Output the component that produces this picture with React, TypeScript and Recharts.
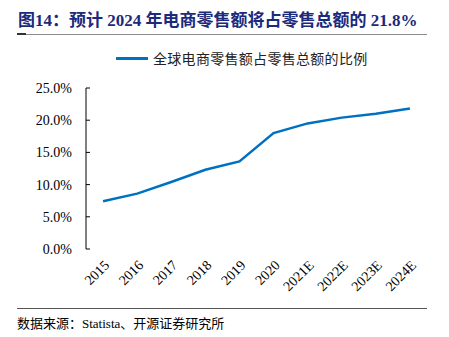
import React from 'react';
import { LineChart, Line, XAxis, YAxis } from 'recharts';

const years = ['2015', '2016', '2017', '2018', '2019', '2020', '2021E', '2022E', '2023E', '2024E'];
const share = [7.4, 8.6, 10.4, 12.3, 13.6, 18.0, 19.5, 20.4, 21.0, 21.8];
const yTicks = [0, 5, 10, 15, 20, 25];
const seriesName = '全球电商零售额占零售总额的比例';

// x is the middle of each category band, so tick marks can sit on the band edges
const data = years.map((year, i) => ({ x: i + 0.5, year, share: share[i] }));
const edgeTicks = years.map((_, i) => i).concat(years.length);
const centerTicks = data.map((d) => d.x);

const serif = "'Liberation Serif', 'Times New Roman', serif";
const cjk = "'Liberation Serif', 'Noto Sans CJK SC', serif";

const YearTick = (props: any) => {
  const { x, y, payload } = props;
  const label = years[Math.floor(payload.value)];
  return (
    <text
      x={x}
      y={y}
      dy={10}
      transform={`rotate(-45 ${x} ${y})`}
      textAnchor="end"
      fontFamily={serif}
      fontSize={14}
      fill="#000"
    >
      {label}
    </text>
  );
};

const App: React.FC = () => {
  return (
    <div style={{ position: 'relative', width: 449, height: 337, background: '#fff', fontFamily: cjk }}>
      <style>{`body{margin:0}`}</style>
      <div
        style={{
          position: 'absolute', left: 18, top: 6, fontSize: 17, fontWeight: 'bold',
          color: '#1c2a7c', whiteSpace: 'nowrap'
        }}
      >
        图14：预计 2024 年电商零售额将占零售总额的 21.8%
      </div>
      <div style={{ position: 'absolute', left: 17, top: 34, width: 410, height: 1, background: '#8c8c8c' }} />
      <div style={{ position: 'absolute', left: 17, top: 33, width: 9, height: 2, background: '#333' }} />

      <div style={{ position: 'absolute', left: 116, top: 57, width: 32, height: 3, background: '#0070C0' }} />
      <div
        style={{
          position: 'absolute', left: 153, top: 48, fontSize: 14, color: '#222',
          letterSpacing: 0.3, whiteSpace: 'nowrap'
        }}
      >
        {seriesName}
      </div>

      <div style={{ position: 'absolute', left: 0, top: 0 }}>
        <LineChart width={449} height={337} data={data} margin={{ top: 88, right: 22, bottom: 38, left: 26 }}>
          <XAxis
            xAxisId="edge"
            type="number"
            dataKey="x"
            domain={[0, years.length]}
            ticks={edgeTicks}
            tick={false}
            tickSize={-4}
            height={0}
            axisLine={{ stroke: '#000', strokeWidth: 1 }}
            tickLine={{ stroke: '#000' }}
          />
          <XAxis
            xAxisId="label"
            type="number"
            dataKey="x"
            domain={[0, years.length]}
            ticks={centerTicks}
            tick={<YearTick />}
            tickLine={false}
            axisLine={false}
            tickMargin={4}
            height={50}
            interval={0}
          />
          <YAxis
            type="number"
            domain={[0, 25]}
            ticks={yTicks}
            width={60}
            tickSize={-4}
            tickMargin={18}
            tickFormatter={(v: number) => `${v.toFixed(1)}%`}
            tick={{ fontFamily: serif, fontSize: 14, fill: '#000' }}
            axisLine={{ stroke: '#000', strokeWidth: 1 }}
            tickLine={{ stroke: '#000' }}
          />
          <Line
            xAxisId="edge"
            type="linear"
            dataKey="share"
            name={seriesName}
            stroke="#0070C0"
            strokeWidth={2.5}
            dot={false}
            isAnimationActive={false}
          />
        </LineChart>
      </div>

      <div style={{ position: 'absolute', left: 17, top: 308, width: 410, height: 1, background: '#555' }} />
      <div style={{ position: 'absolute', left: 17, top: 313, fontSize: 13, color: '#000', whiteSpace: 'nowrap' }}>
        数据来源：Statista、开源证券研究所
      </div>
    </div>
  );
};

export default App;
